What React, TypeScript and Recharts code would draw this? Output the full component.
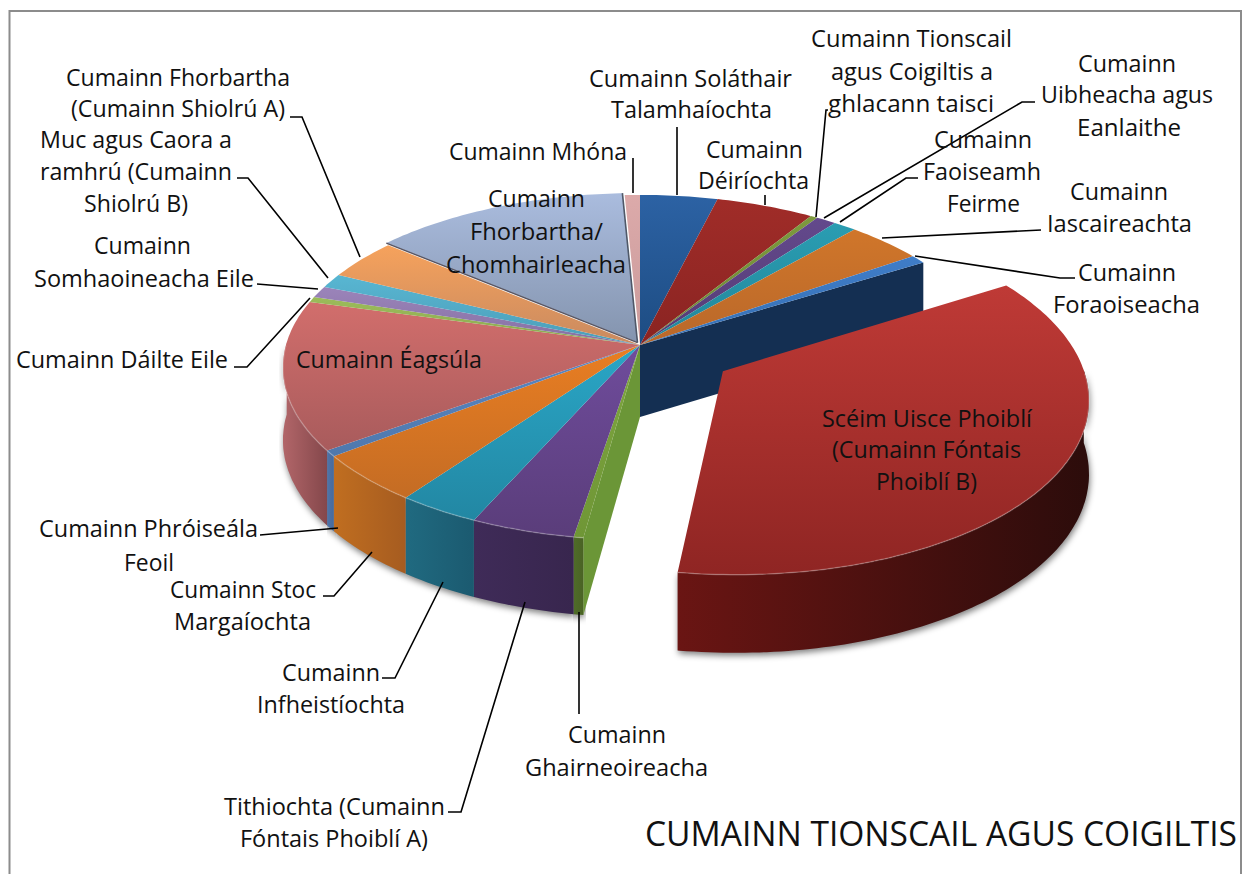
import { Pie, PieChart } from 'recharts'

const W = 1251
const H = 874

const CATEGORIES = [
  'Cumainn Soláthair Talamhaíochta',
  'Cumainn Déiríochta',
  'Cumainn Tionscail agus Coigiltis a ghlacann taisci',
  'Cumainn Uibheacha agus Eanlaithe',
  'Cumainn Faoiseamh Feirme',
  'Cumainn Iascaireachta',
  'Cumainn Foraoiseacha',
  'Scéim Uisce Phoiblí (Cumainn Fóntais Phoiblí B)',
  'Cumainn Ghairneoireacha',
  'Tithiochta (Cumainn Fóntais Phoiblí A)',
  'Cumainn Infheistíochta',
  'Cumainn Stoc Margaíochta',
  'Cumainn Phróiseála Feoil',
  'Cumainn Éagsúla',
  'Cumainn Dáilte Eile',
  'Cumainn Somhaoineacha Eile',
  'Muc agus Caora a ramhrú (Cumainn Shiolrú B)',
  'Cumainn Fhorbartha (Cumainn Shiolrú A)',
  'Cumainn Fhorbartha/ Chomhairleacha',
  'Cumainn Mhóna',
]

const VALUES = [
  3.97, 5.03, 0.36, 1.03, 1.19, 3.92, 0.81, 35.92, 0.39, 4.17, 3.31, 4.58, 0.56, 14, 0.5, 1.11, 1.33, 3.83, 13.22,
  0.78,
]

const TOP_A = [
  '#2c62a4', '#a02c28', '#7d9a3e', '#63498c', '#2a9db2', '#d0762a', '#3f7dc8', '#bf3a36', '#7fa63f', '#6f4c9c',
  '#2aa6c6', '#e97e22', '#5a88c4', '#d26e6c', '#9cbc5a', '#9b84ba', '#58b6d2', '#f6a25c', '#aabcde', '#dcaaaa',
]
const TOP_B = [
  '#1d4c82', '#8a2422', '#6d8735', '#553b74', '#22869a', '#b9682a', '#3670b4', '#8f2523', '#6f9636', '#5a3d7a',
  '#2287a3', '#c46c24', '#4f78ac', '#a85b5c', '#8aa850', '#8570a2', '#4c9db8', '#c98a60', '#8494ae', '#c99a9a',
]
const WALL_A = [
  '#1a3f6c', '#6a1b18', '#55682a', '#42305e', '#1c6676', '#8f5220', '#4f74a8', '#6a1513', '#4f6c28', '#3f2b58',
  '#206a80', '#c06e20', '#4f74a8', '#b26669', '#6b8238', '#6e5a88', '#3a7f95', '#a96f45', '#6a7a94', '#a88080',
]
const WALL_B = [
  '#163559', '#561614', '#485a24', '#35264c', '#175563', '#7a461c', '#466a9c', '#2c0c0b', '#4a6325', '#38264e',
  '#1b5a70', '#a65c20', '#466a9c', '#84474b', '#5c7030', '#5e4c76', '#316d80', '#925f3b', '#5a6880', '#8e6c6c',
]

// index of the slice pulled out of the pie, and the small shift of the grey-blue one
const PULLED = 7
const NUDGED = 18
const PULL = 0.275
const NUDGE = 0.016

// perspective of the disc
const CX = 640
const CY = 345
const RX = 354
const RY = 169.6
const K = 0.1304
const DEPTH = 72

const FONT = '"Open Sans", sans-serif'
const LABEL_SIZE = 23

type Line = [string, number, number, number]

// text lines per slice: text, left x, right x, baseline y
const LABEL_LINES: Line[][] = [
  [['Cumainn Soláthair', 589, 792, 87], ['Talamhaíochta', 611, 772, 118]],
  [['Cumainn', 706, 803, 158], ['Déiríochta', 698, 809, 189]],
  [['Cumainn Tionscail', 811, 1012, 47], ['agus Coigiltis a', 831, 993, 80], ['ghlacann taisci', 828, 994, 112]],
  [['Cumainn', 1078, 1176, 72], ['Uibheacha agus', 1041, 1213, 103], ['Eanlaithe', 1077, 1181, 136]],
  [['Cumainn', 934, 1032, 148], ['Faoiseamh', 923, 1041, 180], ['Feirme', 947, 1020, 212]],
  [['Cumainn', 1070, 1168, 200], ['Iascaireachta', 1047, 1192, 232]],
  [['Cumainn', 1078, 1176, 281], ['Foraoiseacha', 1053, 1200, 313]],
  [['Scéim Uisce Phoiblí', 822, 1032, 427], ['(Cumainn Fóntais', 832, 1021, 458], ['Phoiblí B)', 876, 977, 490]],
  [['Cumainn', 568, 666, 743], ['Ghairneoireacha', 525, 708, 776]],
  [['Tithiochta (Cumainn', 224, 445, 815], ['Fóntais Phoiblí A)', 240, 428, 847]],
  [['Cumainn', 282, 380, 681], ['Infheistíochta', 257, 405, 713]],
  [['Cumainn Stoc', 170, 316, 598], ['Margaíochta', 174, 311, 630]],
  [['Cumainn Phróiseála', 39, 258, 537], ['Feoil', 124, 174, 571]],
  [['Cumainn Éagsúla', 296, 482, 368]],
  [['Cumainn Dáilte Eile', 16, 228, 368]],
  [['Cumainn', 94, 191, 254], ['Somhaoineacha Eile', 34, 254, 287]],
  [['Muc agus Caora a', 40, 232, 148], ['ramhrú (Cumainn', 40, 232, 180], ['Shiolrú B)', 84, 188, 212]],
  [['Cumainn Fhorbartha', 66, 290, 86], ['(Cumainn Shiolrú A)', 71, 285, 117]],
  [['Cumainn', 488, 585, 207], ['Fhorbartha/', 470, 603, 240], ['Chomhairleacha', 446, 626, 273]],
  [['Cumainn Mhóna', 449, 627, 160]],
]

const LEADERS: string[] = [
  '677,127 677,195',
  '765,195 765,205',
  '828,110 826,110 816,217',
  '1035,102 1022,102 824,218',
  '918,178 906,178 840,222',
  '1041,230 882,238',
  '1075,278 1060,278 915,256',
  '',
  '579,612 579,714',
  '448,812 461,812 525,602',
  '382,678 395,678 443,582',
  '323,596 334,596 372,552',
  '260,535 338,528',
  '',
  '234,367 247,367 310,298',
  '257,284 318,289',
  '237,178 248,178 328,278',
  '290,117 302,117 360,257',
  '',
  '633,158 633,193',
]

const rows = CATEGORIES.map((name, idx) => ({ name, value: VALUES[idx], idx }))

const rad = (d: number) => (d * Math.PI) / 180

function project(u: number, v: number) {
  const w = 1 + K * v
  return { x: CX + (RX * u) / w, y: CY - (RY * v) / w, w }
}

function drop(u: number, v: number) {
  const p = project(u, v)
  return { x: p.x, y: p.y + DEPTH / Math.sqrt(p.w) }
}

function shift(idx: number, start: number, end: number) {
  const amount = idx === PULLED ? PULL : idx === NUDGED ? NUDGE : 0
  const mid = rad((start + end) / 2)
  return { du: amount * Math.cos(mid), dv: amount * Math.sin(mid) }
}

// angles from start going down to end, one per degree
function sweep(start: number, end: number) {
  const out: number[] = []
  for (let a = start; a > end; a -= 1) out.push(a)
  out.push(end)
  return out
}

const toPath = (pts: { x: number; y: number }[], close = true) =>
  pts.map((p, i) => `${i ? 'L' : 'M'}${p.x.toFixed(1)} ${p.y.toFixed(1)}`).join(' ') + (close ? ' Z' : '')

function topShape(p: any) {
  const idx = p.idx ?? p.payload?.idx
  const { du, dv } = shift(idx, p.startAngle, p.endAngle)
  const rim = sweep(p.startAngle, p.endAngle).map((a) => project(du + Math.cos(rad(a)), dv + Math.sin(rad(a))))
  const apex = project(du, dv)
  const front = sweep(p.startAngle, p.endAngle)
    .filter((a) => Math.sin(rad(a)) < 0)
    .map((a) => project(du + Math.cos(rad(a)), dv + Math.sin(rad(a))))
  return (
    <g>
      <path d={toPath([apex, ...rim])} fill={`url(#top${idx})`} />
      {front.length > 1 ? (
        <path d={toPath(front, false)} fill="none" stroke="#ffffff" strokeOpacity={0.22} strokeWidth={1.5} />
      ) : null}
      {idx === NUDGED ? (
        <>
          <path d={toPath([apex, rim[rim.length - 1]], false)} stroke="#4f5868" strokeWidth={1.6} fill="none" />
          <path d={toPath([apex, rim[0]], false)} stroke="#5a5560" strokeWidth={1.4} fill="none" />
        </>
      ) : null}
    </g>
  )
}

function wallPath(p: any) {
  const idx = p.idx ?? p.payload?.idx
  const { du, dv } = shift(idx, p.startAngle, p.endAngle)
  const angles = sweep(p.startAngle, p.endAngle).filter((a) => Math.sin(rad(a)) < 0.02)
  if (angles.length < 2) return ''
  const upper = angles.map((a) => project(du + Math.cos(rad(a)), dv + Math.sin(rad(a))))
  const lower = angles.map((a) => drop(du + Math.cos(rad(a)), dv + Math.sin(rad(a)))).reverse()
  return toPath([...upper, ...lower])
}

function wallShape(p: any) {
  const idx = p.idx ?? p.payload?.idx
  const d = wallPath(p)
  return (
    <g>
      {d ? <path d={d} fill={`url(#wall${idx})`} /> : null}
      {/* the two faces left open by the pulled slice */}
      {idx === PULLED - 1 ? cutFace(p.endAngle, '#142f52') : null}
      {idx === PULLED + 1 ? cutFace(p.startAngle, '#6b9637') : null}
    </g>
  )
}

function cutFace(angle: number, fill: string) {
  const u = Math.cos(rad(angle))
  const v = Math.sin(rad(angle))
  return <path d={toPath([project(0, 0), project(u, v), drop(u, v), drop(0, 0)])} fill={fill} />
}

function shadowShape(p: any) {
  const d = wallPath(p)
  return d ? <path d={d} fill="#000" fillOpacity={0.5} transform="translate(1 3)" filter="url(#soft)" /> : <g />
}

const pulledShape = (p: any) => {
  const idx = p.idx ?? p.payload?.idx
  if (idx !== PULLED) return <g />
  return (
    <g>
      {shadowShape(p)}
      {wallShape(p)}
      {topShape(p)}
    </g>
  )
}

const mainShadow = (p: any) => ((p.idx ?? p.payload?.idx) === PULLED ? <g /> : shadowShape(p))
const mainWall = (p: any) => ((p.idx ?? p.payload?.idx) === PULLED ? <g /> : wallShape(p))
const mainTop = (p: any) => ((p.idx ?? p.payload?.idx) === PULLED ? <g /> : topShape(p))

function renderLabel(p: any) {
  const idx = p.idx ?? p.payload?.idx ?? p.index
  return (
    <g key={idx}>
      {LEADERS[idx] ? <polyline points={LEADERS[idx]} fill="none" stroke="#000" strokeWidth={1.6} /> : null}
      {LABEL_LINES[idx].map(([t, x0, x1, y]) => (
        <text
          key={t}
          x={(x0 + x1) / 2}
          y={y}
          textAnchor="middle"
          textLength={x1 - x0}
          lengthAdjust="spacingAndGlyphs"
          fontFamily={FONT}
          fontSize={LABEL_SIZE}
          fill="#111"
        >
          {t}
        </text>
      ))}
    </g>
  )
}

export default function App() {
  return (
    <div style={{ position: 'absolute', left: 0, top: 0, width: W, height: H, background: '#fff' }}>
      <PieChart width={W} height={H} margin={{ top: 0, right: 0, bottom: 0, left: 0 }}>
        <defs>
          <filter id="soft" x="-10%" y="-10%" width="120%" height="130%">
            <feGaussianBlur stdDeviation="3" />
          </filter>
          {rows.map((r) => (
            <linearGradient key={`t${r.idx}`} id={`top${r.idx}`} x1="0" y1="0" x2="0" y2="1">
              <stop offset="0" stopColor={TOP_A[r.idx]} />
              <stop offset="1" stopColor={TOP_B[r.idx]} />
            </linearGradient>
          ))}
          {rows.map((r) => (
            <linearGradient key={`w${r.idx}`} id={`wall${r.idx}`} x1="0" y1="0" x2="1" y2="0">
              <stop offset="0" stopColor={WALL_A[r.idx]} />
              <stop offset="1" stopColor={WALL_B[r.idx]} />
            </linearGradient>
          ))}
        </defs>
        <polyline points="9.5,874 9.5,11 1241,11 1241,874" fill="none" stroke="#8c8c8c" strokeWidth={2} />
        {[mainShadow, mainWall, mainTop].map((shape, i) => (
          <Pie
            key={i}
            data={rows}
            dataKey="value"
            nameKey="name"
            cx={CX}
            cy={CY}
            outerRadius={RX}
            startAngle={90}
            endAngle={-270}
            stroke="none"
            shape={shape}
            isAnimationActive={false}
          />
        ))}
        <Pie
          data={rows}
          dataKey="value"
          nameKey="name"
          cx={CX}
          cy={CY}
          outerRadius={RX}
          startAngle={90}
          endAngle={-270}
          stroke="none"
          shape={pulledShape}
          label={renderLabel}
          labelLine={false}
          isAnimationActive={false}
        />
        <text
          x={941}
          y={846}
          textAnchor="middle"
          textLength={592}
          lengthAdjust="spacingAndGlyphs"
          fontFamily={FONT}
          fontSize={34}
          fill="#111"
        >
          CUMAINN TIONSCAIL AGUS COIGILTIS
        </text>
      </PieChart>
    </div>
  )
}
